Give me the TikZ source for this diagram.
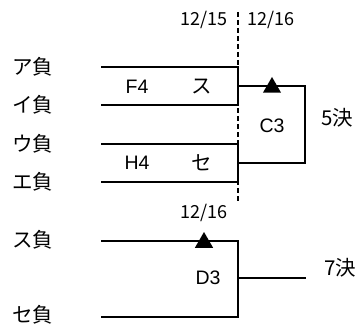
\documentclass[tikz,border=0pt]{standalone}
\usepackage{fontspec}
\setmainfont{Noto Sans CJK JP}
\newfontfamily\arialfont{Liberation Sans}
\usetikzlibrary{shapes.geometric}
\tikzset{
	bline/.style={line width=2.4pt},
	dline/.style={line width=2pt, dash pattern=on 5pt off 3pt},
	team/.style={inner sep=0pt, font=\fontsize{20.5}{20.5}\selectfont},
	day/.style={inner sep=0pt, font=\fontsize{18}{18}\selectfont},
	code/.style={inner sep=0pt, font=\arialfont\fontsize{19.5}{19.5}\selectfont},
	win/.style={regular polygon, regular polygon sides=3, fill=black, inner sep=0pt, minimum size=21pt}
}

\begin{document}
\begin{tikzpicture}[x=1pt, y=-1pt]
		%%%%% START %%%%%
		\useasboundingbox (0, 0) rectangle (361, 326);
		
		% day split
		\coordinate (top) at (238, 12);
		\coordinate (bot) at (238, 203);
		\draw[dline] (top) -- (bot);
		\node[day] (d15) at (204, 20) {12/15};
		\node[day] (d16) at (271, 20) {12/16};
		
		% first round
		\node[team] (ta) at (33, 67) {ア負};
		\node[team] (ti) at (33, 105) {イ負};
		\node[team] (tu) at (33, 144) {ウ負};
		\node[team] (te) at (33, 182) {エ負};
		\coordinate (a0) at (101, 67);   \coordinate (a1) at (238, 67);
		\coordinate (i0) at (101, 105);  \coordinate (i1) at (238, 105);
		\coordinate (u0) at (101, 144);  \coordinate (u1) at (238, 144);
		\coordinate (e0) at (101, 182);  \coordinate (e1) at (238, 182);
		\draw[bline] (a0) -- (a1) -- (i1) -- (i0);
		\draw[bline] (u0) -- (u1) -- (e1) -- (e0);
		\node[code] (f4) at (137, 87) {F4};
		\node[team] (su) at (202, 87) {ス};
		\node[code] (h4) at (137, 163) {H4};
		\node[team] (se) at (202, 163) {セ};
		
		% C3
		\coordinate (c1) at (238, 86);
		\coordinate (c2) at (305, 86);
		\coordinate (c3) at (305, 163);
		\coordinate (c4) at (238, 163);
		\draw[bline] (c1) -- (c2) -- (c3) -- (c4);
		\node[win] (w1) at (272, 87.5) {};
		\node[code] (gc3) at (272, 126) {C3};
		\node[team] (r5) at (337, 118) {5決};
		
		% D3
		\node[day] (d16b) at (204, 213) {12/16};
		\node[team] (tsu) at (33, 240) {ス負};
		\node[team] (tse) at (33, 315) {セ負};
		\coordinate (s0) at (101, 241);  \coordinate (s1) at (238, 241);
		\coordinate (t0) at (101, 317);  \coordinate (t1) at (238, 317);
		\draw[bline] (s0) -- (s1) -- (t1) -- (t0);
		\coordinate (m0) at (238, 278);
		\coordinate (m1) at (306, 278);
		\draw[bline] (m0) -- (m1);
		\node[win] (w2) at (204, 242.5) {};
		\node[code] (gd3) at (208, 278) {D3};
		\node[team] (r7) at (340, 268) {7決};
		%%%%% END %%%%%
\end{tikzpicture}
\end{document}
